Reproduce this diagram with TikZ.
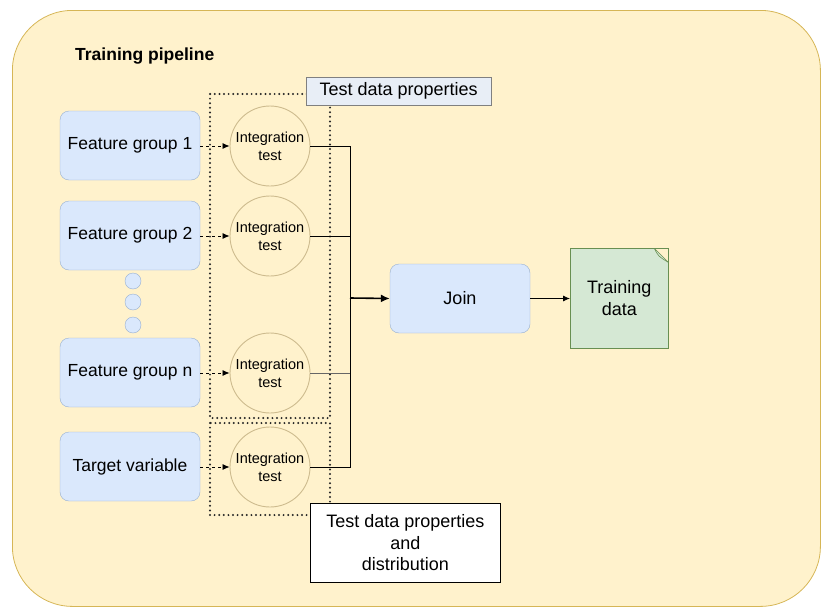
\documentclass[tikz,border=0pt]{standalone}
\usepackage{fontspec}
\setmainfont{Liberation Sans}
\usetikzlibrary{arrows.meta,shapes.misc}
\definecolor{pipefill}{HTML}{FFF2CC}
\definecolor{pipeline}{HTML}{D6B656}
\definecolor{bluefill}{HTML}{DAE8FC}
\definecolor{blueline}{HTML}{6C8EBF}
\definecolor{greenfill}{HTML}{D5E8D4}
\definecolor{greenline}{HTML}{82B366}
\definecolor{circline}{HTML}{CDBB8E}
\definecolor{propfill}{HTML}{E8EEF6}
\begin{document}
\begin{tikzpicture}[x=1pt,y=-1pt,
  fgbox/.style={draw=blueline!70,fill=bluefill,rounded corners=9pt,minimum width=140pt,minimum height=69pt,font=\fontsize{17.5}{20}\selectfont,inner sep=0pt},
  itest/.style={circle,draw=circline,line width=0.9pt,minimum size=80pt,inner sep=0pt,align=center,font=\fontsize{14.5}{18}\selectfont},
  dotc/.style={circle,draw=blueline!70,fill=bluefill,minimum size=16pt,inner sep=0pt},
  dashedarrow/.style={dashed,dash pattern=on 3pt off 3pt,-{Latex[length=7pt,width=6pt]},line width=0.8pt},
  solidline/.style={line width=1pt},
  dotbox/.style={draw=black!85,line width=2.2pt,dash pattern=on 0pt off 4.6pt,line cap=round}
]
\useasboundingbox (0,0) rectangle (831,616);
\node[draw=pipeline,fill=pipefill,rounded corners=60pt,line width=0.8pt,minimum width=808pt,minimum height=596pt,anchor=north west] (pipe) at (12,10) {};
\node[anchor=west,inner sep=0pt,font=\bfseries\fontsize{17.5}{20}\selectfont] (title) at (75,56) {Training pipeline};

\node[fgbox] (fg1) at (130,145.5) {Feature group 1};
\node[fgbox] (fg2) at (130,235.5) {Feature group 2};
\node[fgbox] (fgn) at (130,372.5) {Feature group n};
\node[fgbox] (tv) at (130,466.5) {Target variable};

\node[dotc] (d1) at (133,281) {};
\node[dotc] (d2) at (133,302) {};
\node[dotc] (d3) at (133,325) {};

\draw[dotbox] (210,94) rectangle (330,418);
\draw[dotbox] (210,423) rectangle (330,515);

\node[itest] (it1) at (270,146) {Integration\\test};
\node[itest] (it2) at (270,236) {Integration\\test};
\node[itest] (itn) at (270,373) {Integration\\test};
\node[itest] (itt) at (270,467) {Integration\\test};

\node[draw=gray,fill=propfill,minimum width=185pt,minimum height=28pt,inner sep=0pt,font=\fontsize{18}{21}\selectfont,anchor=north west] (prop) at (306,77) {Test data properties};

\draw[dashedarrow] (fg1.east |- it1.west) -- (it1.west);
\draw[dashedarrow] (fg2.east |- it2.west) -- (it2.west);
\draw[dashedarrow] (fgn.east |- itn.west) -- (itn.west);
\draw[dashedarrow] (tv.east |- itt.west) -- (itt.west);

\coordinate (bus1) at (350,146);
\coordinate (bust) at (350,467);
\coordinate (busm) at (350,298);
\draw[solidline] (it1.east) -- (bus1) -- (bust) -- (itt.east);
\draw[solidline] (it2.east) -- (350,236);
\draw[solidline,gray!80!black] (itn.east) -- (350,373);

\node[fgbox,font=\fontsize{18}{21}\selectfont] (join) at (460,298.5) {Join};
\draw[line width=1.6pt,-{Latex[length=9pt,width=8pt]}] (busm) -- (join.west);

\node[draw=greenline!80!black,fill=greenfill,line width=0.6pt,minimum width=98pt,minimum height=100pt,inner sep=0pt,align=center,font=\fontsize{18}{22}\selectfont,anchor=north west,
  path picture={\fill[pipefill] ([xshift=-14pt]path picture bounding box.north east) -- (path picture bounding box.north east) -- ([yshift=-14pt]path picture bounding box.north east) -- cycle;
  \draw[greenline!80!black,line width=0.6pt] ([xshift=-14pt]path picture bounding box.north east) -- ([yshift=-14pt]path picture bounding box.north east);
  \draw[greenline!80!black,line width=0.6pt] ([xshift=-14pt]path picture bounding box.north east) .. controls ([xshift=-10pt,yshift=-8pt]path picture bounding box.north east) .. ([yshift=-14pt]path picture bounding box.north east);}] (td) at (570,248) {Training\\data};
\draw[line width=0.8pt,-{Latex[length=7pt,width=6pt]}] (join.east) -- (td.west |- join.east);

\node[draw,fill=white,line width=0.8pt,minimum width=190pt,minimum height=79pt,inner sep=0pt,align=center,font=\fontsize{18}{21.5}\selectfont,anchor=north west] (dist) at (310,503) {Test data properties\\and\\distribution};
\end{tikzpicture}
\end{document}
